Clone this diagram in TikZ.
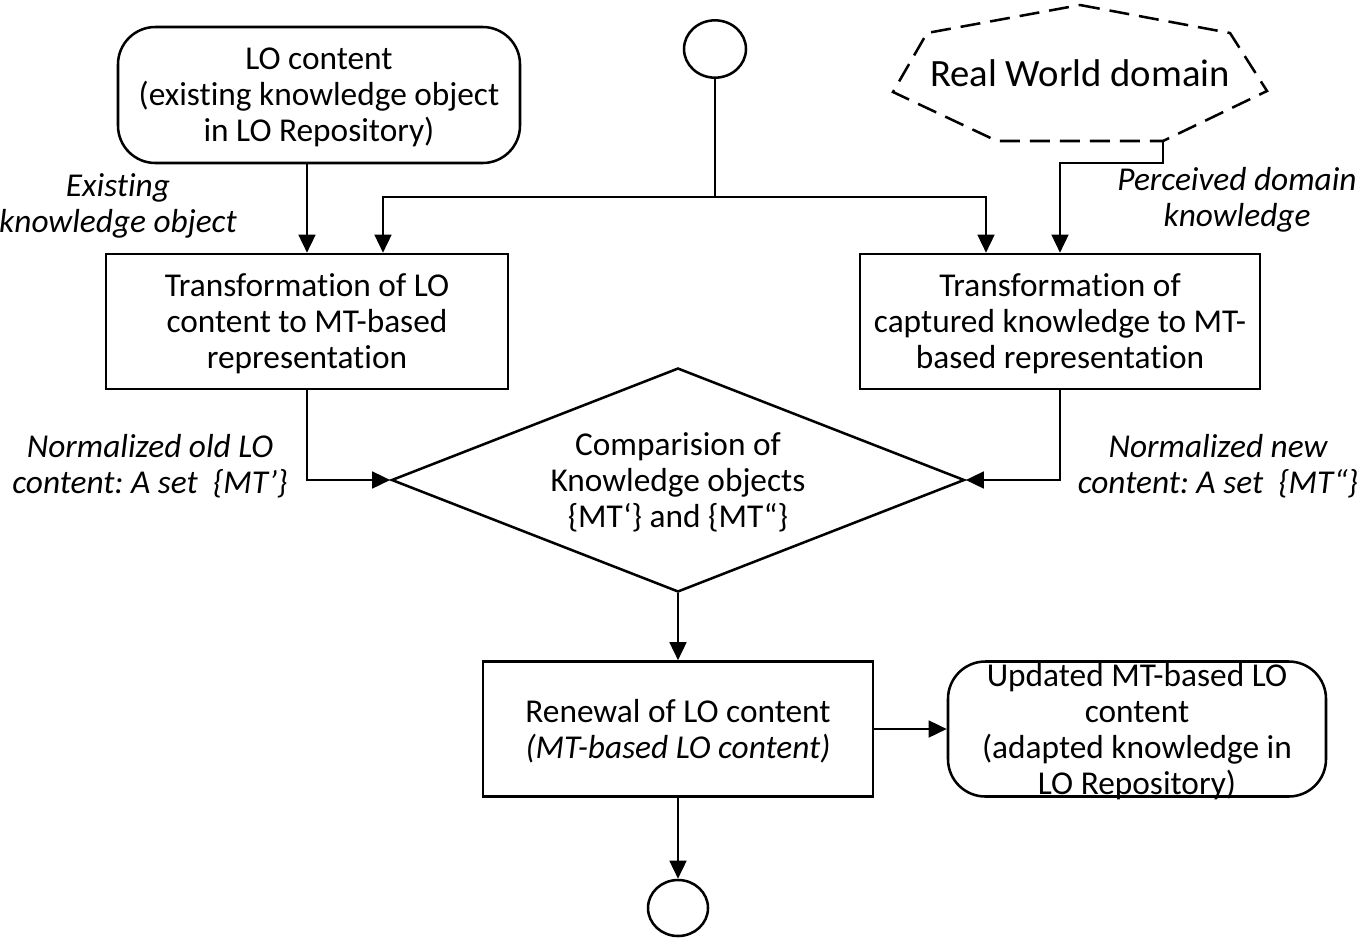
\documentclass[tikz,border=0pt]{standalone}
\usepackage{fontspec}
\setmainfont[Ligatures=NoCommon]{Carlito}
\usetikzlibrary{arrows.meta,shapes.geometric,calc}
\frenchspacing
\begin{document}
\begin{tikzpicture}[x=0.75pt,y=-0.75pt,
  every node/.style={font=\fontsize{25}{27}\selectfont, align=center, inner sep=0pt, text depth=0pt},
  line/.style={line width=1.9pt},
  arr/.style={line width=1.9pt,-{Triangle[length=13.5pt,width=12.5pt]}},
  box/.style={draw, line width=1.9pt, rectangle, minimum width=#1, minimum height=101.25pt},
  rbox/.style={box=#1, rounded corners=28pt},
  term/.style={draw, line width=1.9pt, ellipse, minimum width=46.5pt, minimum height=43pt},
  lbl/.style={font=\fontsize{25}{27}\selectfont\itshape},
]
\path[use as bounding box] (0,0) rectangle (1361,940);

% nodes
\node[rbox=301.5pt, minimum height=102pt] (lo) at (319,95) {LO content\\(existing knowledge object\\in LO Repository)};
\node[term] (start) at (715,49) {};
\node[font=\fontsize{29}{33}\selectfont] (real) at (1080,73) {Real World domain};
\draw[line, dash pattern=on 15pt off 7.5pt] (1080,5) -- (1230,33) -- (1267,91) -- (1163,141) -- (997,141) -- (893,92) -- (927,33) -- cycle;
\coordinate (rwb) at (1163,141);

\node[box=301.5pt] (t1) at (307,321.5) {Transformation of LO\\content to MT-based\\representation};
\node[box=300pt] (t2) at (1060,321.5) {Transformation of\\captured knowledge to MT-\\based representation};
\node[draw, line width=1.9pt, diamond, shape aspect=2.56, minimum width=429.75pt, minimum height=168pt] (cmp) at (678,480) {Comparision of\\Knowledge objects\\\{MT‘\} and \{MT“\}};
\node[box=292.5pt] (ren) at (678,729) {Renewal of LO content\\\textit{(MT-based LO content)}};
\node[rbox=283.5pt] (upd) at (1137,729) {};
\node (updt) at (upd.center) {Updated MT-based LO\\content\\(adapted knowledge in\\LO Repository)};
\node[term, minimum width=45pt, minimum height=42pt] (end) at (678,908) {};

% connectors
\coordinate (bus) at (715,197);
\draw[arr] (t1.north |- lo.south) -- (t1.north);
\draw[line] (start.south) -- (bus);
\draw[arr] (bus) -| ($(t1.north)+(76,0)$);
\draw[arr] (bus) -| ($(t2.north)+(-74,0)$);
\draw[arr] (rwb) -- ++(0,22) -| (t2.north);
\draw[arr] (t1.south) |- (cmp.west);
\draw[arr] (t2.south) |- (cmp.east);
\draw[arr] (cmp.south) -- (ren.north);
\draw[arr] (ren.east) -- (upd.west);
\draw[arr] (ren.south) -- (end.north);

% labels
\node[lbl] (l1) at (118,203) {Existing\\knowledge object};
\node[lbl] (l2) at (1237,197) {Perceived domain\\knowledge};
\node[lbl] (l3) at (150,464) {Normalized old LO\\content: A set\ \ \{MT’\}};
\node[lbl] (l4) at (1218,464) {Normalized new\\content: A set\ \ \{MT“\}};
\end{tikzpicture}
\end{document}
